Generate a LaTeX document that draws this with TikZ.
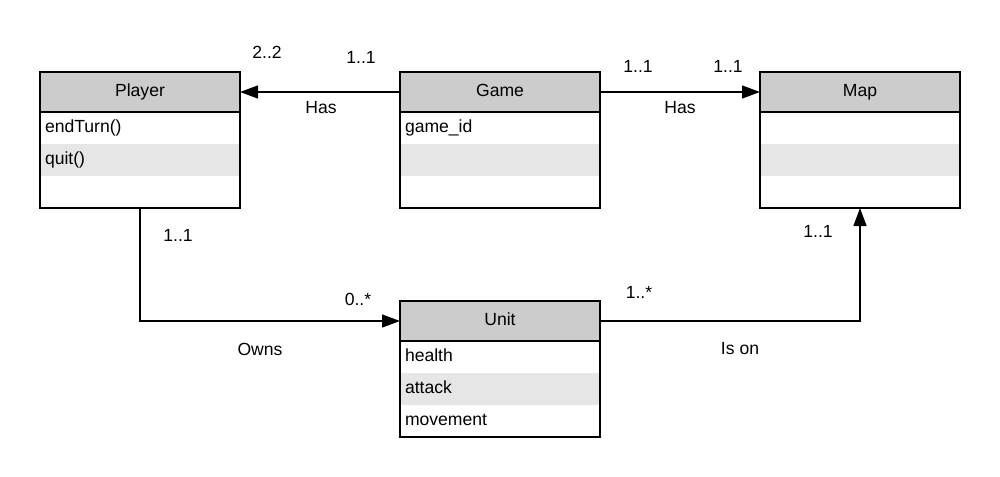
\documentclass[tikz,border=0pt]{standalone}
\usepackage{fontspec}
\setmainfont{Liberation Sans}
\usetikzlibrary{positioning,arrows.meta}
\definecolor{headgrey}{HTML}{CCCCCC}
\definecolor{rowgrey}{HTML}{E6E6E6}

\begin{document}
\begin{tikzpicture}[
  font=\fontsize{12.5}{15}\selectfont,
  head/.style={draw, line width=1.4pt, fill=headgrey, minimum width=5cm,
    minimum height=1cm, inner sep=0pt, outer sep=0pt,
    text height=9pt, text depth=2pt},
  row/.style={below=0pt of #1, minimum height=0.8cm, text width=4.75cm,
    align=left, inner xsep=0.125cm, inner ysep=0pt, outer sep=0pt,
    text height=9pt, text depth=2pt},
  frame/.style={line width=1.4pt},
  assoc/.style={line width=1.4pt, -{Triangle[length=0.45cm,width=0.32cm]}}
]
\useasboundingbox (0,0) rectangle (25,-11.925);

% Player
\node[head] (player) at (3.5,-2.3) {Player};
\node[row=player] (player1) {endTurn()};
\node[row=player1, fill=rowgrey] (player2) {quit()};
\node[row=player2] (player3) {};
\draw[frame] (player.north west) rectangle (player3.south east);

% Game
\node[head] (game) at (12.5,-2.3) {Game};
\node[row=game] (game1) {game\_id};
\node[row=game1, fill=rowgrey] (game2) {};
\node[row=game2] (game3) {};
\draw[frame] (game.north west) rectangle (game3.south east);

% Map
\node[head] (map) at (21.5,-2.3) {Map};
\node[row=map] (map1) {};
\node[row=map1, fill=rowgrey] (map2) {};
\node[row=map2] (map3) {};
\draw[frame] (map.north west) rectangle (map3.south east);

% Unit
\node[head] (unit) at (12.5,-8.025) {Unit};
\node[row=unit] (unit1) {health};
\node[row=unit1, fill=rowgrey] (unit2) {attack};
\node[row=unit2] (unit3) {movement};
\draw[frame] (unit.north west) rectangle (unit3.south east);

% associations
\draw[assoc] (game.west) -- (player.east);
\draw[assoc] (game.east) -- (map.west);
\draw[assoc] (player3.south) |- (unit.west);
\draw[assoc] (unit.east) -| (map3.south);

% multiplicities and names
\node (m1) at (6.675,-1.3) {2..2};
\node (m2) at (9.025,-1.425) {1..1};
\node (has1) at (8.025,-2.7) {Has};
\node (m3) at (15.95,-1.65) {1..1};
\node (m4) at (18.2,-1.65) {1..1};
\node (has2) at (17.0,-2.7) {Has};
\node (m5) at (4.45,-5.875) {1..1};
\node (m6) at (8.95,-7.475) {0..*};
\node (owns) at (6.5,-8.725) {Owns};
\node (m7) at (15.975,-7.3) {1..*};
\node (m8) at (20.45,-5.775) {1..1};
\node (ison) at (18.5,-8.725) {Is on};
\end{tikzpicture}
\end{document}
